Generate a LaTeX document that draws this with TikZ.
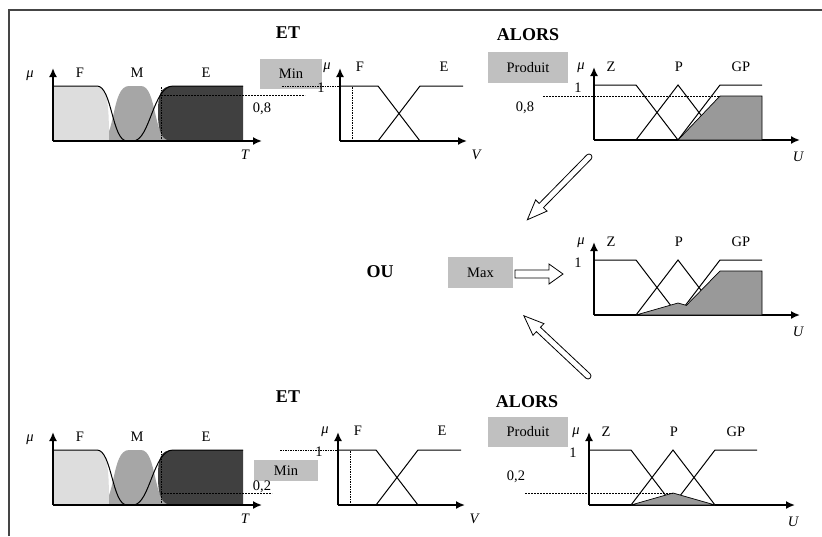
\documentclass[tikz,border=0pt]{standalone}
\usepackage{fontspec}
\setmainfont{Liberation Serif}
\usetikzlibrary{arrows.meta}
\definecolor{fgray}{HTML}{DDDDDD}
\definecolor{mgray}{HTML}{A6A6A6}
\definecolor{egray}{HTML}{404040}
\definecolor{ugray}{HTML}{999999}
\definecolor{boxgray}{HTML}{C0C0C0}
\definecolor{framec}{HTML}{454545}
\newcommand{\drawTgraph}[1]{%
  \fill[mgray] (47,0) .. controls (63,-1) and (58,-55) .. (76,-55) -- (88,-55) .. controls (104,-55) and (100,-1) .. (117,0) -- cycle;
  \fill[fgray] (0,-55) -- (42,-55) .. controls (54,-55) and (56,-42) .. (56,0) -- (0,0) -- cycle;
  \fill[egray] (190,-55) -- (120,-55) .. controls (107,-55) and (105,-46) .. (105,-28) .. controls (105,-9) and (109,0) .. (119,0) -- (190,0) -- cycle;
  \draw[mf] (0,-55) -- (44,-55) .. controls (59,-55) and (59,0) .. (74,0) -- (80,0) .. controls (97,0) and (100,-55) .. (120,-55) -- (190,-55);
  \draw[dotl] (108,0) -- (108,-55);
  \draw[axis] (0,0) -- (209,0);
  \draw[axis] (0,0) -- (0,-73);
  \node[lbl,font=\fontsize{14.5}{16}\selectfont\itshape] (mu#1) at (-23,-65) {μ};
  \node[lbl] (F#1) at (27,-68) {F};
  \node[lbl] (M#1) at (84,-68) {M};
  \node[lbl] (E#1) at (153,-68) {E};
  \node[lbl,font=\fontsize{14.5}{16}\selectfont\itshape] (T#1) at (192,14) {T};
}
\newcommand{\drawVgraph}[1]{%
  \draw[mf] (0,-55) -- (38,-55) -- (80,0);
  \draw[mf] (38,0) -- (80,-55) -- (123,-55);
  \draw[dotl] (12,0) -- (12,-55);
  \draw[axis] (0,0) -- (127,0);
  \draw[axis] (0,0) -- (0,-73);
  \draw[dotl] (-58,-55) -- (0,-55);
  \node[lbl] (one#1) at (-19,-53) {1};
  \node[lbl,font=\fontsize{14.5}{16}\selectfont\itshape] (mu#1) at (-13,-73) {μ};
  \node[lbl] (F#1) at (20,-74) {F};
  \node[lbl] (E#1) at (104,-74) {E};
  \node[lbl,font=\fontsize{14.5}{16}\selectfont\itshape] (V#1) at (136,14) {V};
}
\newcommand{\drawUgraph}[1]{%
  \draw[mf] (0,-55) -- (42,-55) -- (84,0);
  \draw[mf] (42,0) -- (84,-55) -- (126,0);
  \draw[mf] (84,0) -- (126,-55) -- (168,-55);
  \draw[axis] (0,0) -- (206,0);
  \draw[axis] (0,0) -- (0,-73);
  \node[lbl] (one#1) at (-16,-52) {1};
  \node[lbl,font=\fontsize{14.5}{16}\selectfont\itshape] (mu#1) at (-13,-72) {μ};
  \node[lbl] (Z#1) at (17,-73) {Z};
  \node[lbl] (P#1) at (85,-73) {P};
  \node[lbl] (GP#1) at (147,-73) {GP};
  \node[lbl,font=\fontsize{14.5}{16}\selectfont\itshape] (U#1) at (204,17) {U};
}
\newcommand{\hollowarrow}[4]{%
  \draw[line width=0.8pt, fill=white] (0,#2) -- ({#1-#4},#2) -- ({#1-#4},#3) -- (#1,0) -- ({#1-#4},-#3) -- ({#1-#4},-#2) -- (0,-#2) arc[start angle=-90, end angle=-270, radius=#2] -- cycle;
}
\newcommand{\hollowarrowsq}[4]{%
  \draw[line width=0.8pt, fill=white] (0,#2) -- ({#1-#4},#2) -- ({#1-#4},#3) -- (#1,0) -- ({#1-#4},-#3) -- ({#1-#4},-#2) -- (0,-#2) -- cycle;
}
\begin{document}
\begin{tikzpicture}[x=1pt,y=-1pt,
  lbl/.style={font=\fontsize{14.5}{16}\selectfont, inner sep=0pt},
  ttl/.style={font=\fontsize{18}{20}\selectfont\bfseries, inner sep=0pt},
  opbox/.style={fill=boxgray, inner sep=0pt, font=\fontsize{14.5}{16}\selectfont},
  axis/.style={line width=1.7pt, -{Latex[length=9pt,width=8pt]}},
  mf/.style={line width=1pt},
  dotl/.style={dash pattern=on 1.5pt off 1pt, line width=0.7pt},
  dashl/.style={dash pattern=on 2pt off 1pt, line width=0.7pt},
]
\useasboundingbox (0,0) rectangle (822,536);
\fill[white] (0,0) rectangle (822,536);
\draw[line width=2pt, framec] (8.5,536) -- (8.5,9.5) -- (822,9.5);

% titles
\node[ttl] (et1) at (288,33) {ET};
\node[ttl] (alors1) at (528,35) {ALORS};
\node[ttl] (ou) at (380,272) {OU};
\node[ttl] (et2) at (288,397) {ET};
\node[ttl] (alors2) at (527,402) {ALORS};

% operator boxes
\node[opbox, minimum width=62pt, minimum height=30pt] (min1) at (291,74) {Min};
\node[opbox, minimum width=64pt, minimum height=21pt] (min2) at (286,470.5) {Min};
\node[opbox, minimum width=80pt, minimum height=31pt] (prod1) at (528,67.5) {Produit};
\node[opbox, minimum width=80pt, minimum height=30pt] (prod2) at (528,432) {Produit};
\node[opbox, minimum width=65pt, minimum height=31pt] (max) at (480.5,272.5) {Max};

% ---- top rule ----
\begin{scope}[shift={(53,141)}]
  \drawTgraph{a}
  \draw[dashl] (108,-46) -- (252,-46);
  \node[lbl] (v08a) at (209,-32) {0,8};
\end{scope}
\begin{scope}[shift={(340,141)}]
  \drawVgraph{a}
\end{scope}
\begin{scope}[shift={(594,140)}]
  \drawUgraph{a}
  \fill[ugray, draw=black, line width=0.7pt] (84,0) -- (126,-44) -- (168,-44) -- (168,0) -- cycle;
  \draw[dashl] (-51,-44) -- (126,-44);
  \node[lbl] (v08b) at (-69,-32) {0,8};
\end{scope}

% ---- middle ----
\begin{scope}[shift={(594,315)}]
  \drawUgraph{m}
  \fill[ugray, draw=black, line width=0.7pt] (42,0) -- (84,-12) -- (92.4,-9.6) -- (126,-44) -- (168,-44) -- (168,0) -- cycle;
\end{scope}
\begin{scope}[shift={(515,274)}]
  \hollowarrowsq{48}{4}{10}{14}
\end{scope}
\begin{scope}[shift={(589,157)}, rotate=225.5]
  \hollowarrow{88}{3}{8}{20}
\end{scope}
\begin{scope}[shift={(588,376)}, rotate=136.8]
  \hollowarrow{88}{3}{8}{20}
\end{scope}

% ---- bottom rule ----
\begin{scope}[shift={(53,505)}]
  \drawTgraph{b}
  \draw[dashl] (108,-12) -- (219,-12);
  \node[lbl] (v02a) at (209,-18) {0,2};
\end{scope}
\begin{scope}[shift={(338,505)}]
  \drawVgraph{b}
\end{scope}
\begin{scope}[shift={(589,505)}]
  \drawUgraph{b}
  \fill[ugray, draw=black, line width=0.7pt] (42,0) -- (84,-12) -- (126,0) -- cycle;
  \draw[dashl] (-64,-12) -- (84,-12);
  \node[lbl] (v02b) at (-73,-28) {0,2};
\end{scope}
\end{tikzpicture}
\end{document}
